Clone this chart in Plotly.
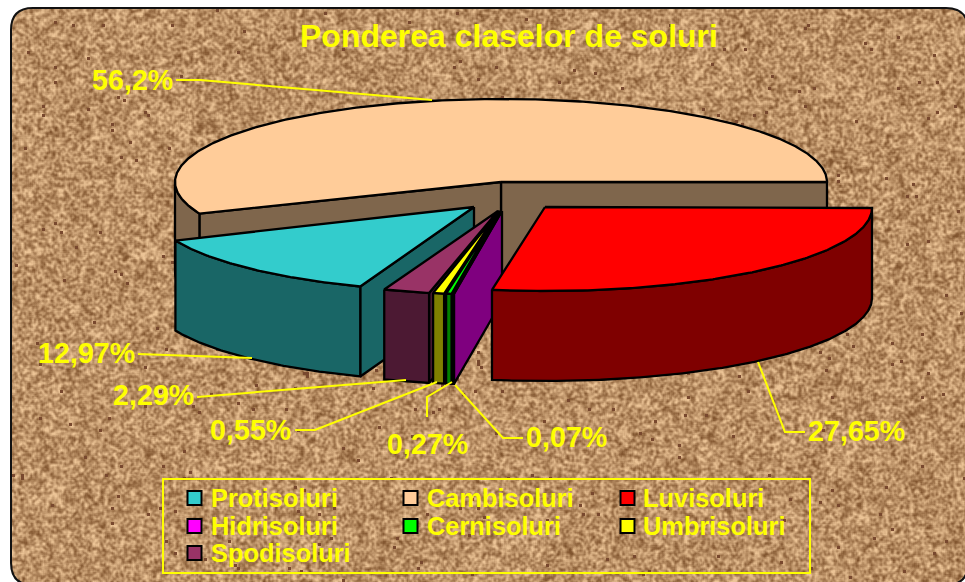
import base64, struct, zlib
import numpy as np
import plotly.graph_objects as go

# ---- data ----
TITLE = "Ponderea claselor de soluri"
PIE_ORDER = ["Cambisoluri", "Protisoluri", "Spodisoluri", "Umbrisoluri", "Cernisoluri", "Hidrisoluri", "Luvisoluri"]
PIE_VALUES = [56.2, 12.97, 2.29, 0.55, 0.27, 0.07, 27.65]
PIE_LABELS = ["56,2%", "12,97%", "2,29%", "0,55%", "0,27%", "0,07%", "27,65%"]
LEGEND_ORDER = ["Protisoluri", "Cambisoluri", "Luvisoluri", "Hidrisoluri", "Cernisoluri", "Umbrisoluri", "Spodisoluri"]
COLORS = {"Protisoluri": "#33CCCC", "Cambisoluri": "#FFCC99", "Luvisoluri": "#FF0000", "Hidrisoluri": "#FF00FF",
          "Cernisoluri": "#00FF00", "Umbrisoluri": "#FFFF00", "Spodisoluri": "#993366"}

# ---- geometry of the exploded, tilted pie (pixels) ----
W, H = 965, 582
RX, RY, DEPTH = 326, 83, 90
ARC_CENTER = {"Cambisoluri": (501, 182), "Protisoluri": (477, 209), "Spodisoluri": (501, 212),
              "Umbrisoluri": (505, 212), "Cernisoluri": (507, 212), "Hidrisoluri": (508, 212), "Luvisoluri": (546, 208)}
APEX = {"Protisoluri": (474, 207), "Spodisoluri": (498, 211), "Umbrisoluri": (499, 211), "Cernisoluri": (500, 211),
        "Hidrisoluri": (502, 211), "Luvisoluri": (545, 207)}
YELLOW = "#FFFF00"

LABEL_POS = [(90, 80), (36, 353), (111, 395), (208, 430), (385, 444), (524, 437), (806, 431)]
LEADERS = [[(176, 80), (200, 80), (432, 100)],
           [(138, 354), (252, 358)],
           [(197, 397), (406, 380)],
           [(295, 430), (315, 430), (437, 382)],
           [(427, 417), (427, 397), (452, 382)],
           [(455, 385), (503, 438), (523, 438)],
           [(758, 362), (785, 432), (805, 432)]]
LEG_COLS = [(187, 209), (403, 425), (620, 641)]
LEG_ROWS = [498, 526, 553]


def half(c):
    r, g, b = int(c[1:3], 16), int(c[3:5], 16), int(c[5:7], 16)
    return f"rgb({r // 2},{g // 2},{b // 2})"


def arc(c, a, b):
    th = np.radians(np.linspace(a, b, max(2, int(abs(b - a) * 2) + 2)))
    return c[0] + RX * np.cos(th), c[1] - RY * np.sin(th)


def poly(fig, xs, ys, fill):
    fig.add_trace(go.Scatter(x=list(xs), y=list(ys), mode="lines", fill="toself", fillcolor=fill,
                             line=dict(color="black", width=2.3), hoverinfo="skip", showlegend=False))


def cork_png():
    """Procedural cork backdrop (deterministic hash noise), encoded as a PNG data URI."""
    yy, xx = np.mgrid[0:H, 0:W]

    def cell(s, ox=0.0, oy=0.0):
        gx, gy = xx // s + ox, yy // s + oy
        v = np.sin(gx * 12.9898 + gy * 78.233 + gx * gy * 0.0137) * 43758.5453
        return v - np.floor(v)

    def blur(a, k=1):
        out = a.copy()
        for ax in (0, 1):
            out = (np.roll(out, k, ax) + out + np.roll(out, -k, ax)) / 3
        return out

    n = 0.70 * blur(cell(2, 3.1, 7.7)) + 0.22 * blur(cell(3, 11.3, 1.9), 2) + 0.08 * blur(cell(11, 5.5, 9.2), 6)
    n = (n - n.mean()) / n.std()
    t = np.clip(0.54 + 0.19 * n, 0, 1)[..., None]
    dark, light = np.array([128, 84, 46.0]), np.array([236, 196, 150.0])
    img = dark + (light - dark) * t
    speck = cell(3, 2.2, 4.4) > 0.994
    img[speck] = [120, 72, 46]
    img = img.astype(np.uint8)
    raw = b"".join(b"\x00" + img[r].tobytes() for r in range(H))

    def chunk(tag, data):
        return struct.pack(">I", len(data)) + tag + data + struct.pack(">I", zlib.crc32(tag + data))

    png = b"\x89PNG\r\n\x1a\n" + chunk(b"IHDR", struct.pack(">IIBBBBB", W, H, 8, 2, 0, 0, 0)) + \
        chunk(b"IDAT", zlib.compress(raw, 9)) + chunk(b"IEND", b"")
    return "data:image/png;base64," + base64.b64encode(png).decode()


fig = go.Figure()

# ---- slices, back to front ----
angle = 0.0
total = sum(PIE_VALUES)
for name, val in zip(PIE_ORDER, PIE_VALUES):
    start, end = angle, angle + val / total * 360
    angle = end
    c = ARC_CENTER[name]
    ap = APEX.get(name, c)
    top, wall = COLORS[name], half(COLORS[name])
    # cut faces
    for th, visible in ((start, np.sin(np.radians(start)) >= 0), (end, np.cos(np.radians(end)) < 0)):
        if visible:
            px, py = arc(c, th, th)
            px, py = px[0], py[0]
            poly(fig, [ap[0], px, px, ap[0], ap[0]], [ap[1], py, py + DEPTH, ap[1] + DEPTH, ap[1]], wall)
    # outer wall
    a, b = max(start, 180), min(end, 360)
    if b > a:
        ax, ay = arc(c, a, b)
        poly(fig, np.r_[ax, ax[::-1], ax[0]], np.r_[ay, ay[::-1] + DEPTH, ay[0]], wall)
    # top face
    tx, ty = arc(c, start, end)
    poly(fig, np.r_[ap[0], tx, ap[0]], np.r_[ap[1], ty, ap[1]], top)

# ---- leader lines and value labels ----
for pts in LEADERS:
    fig.add_trace(go.Scatter(x=[p[0] for p in pts], y=[p[1] for p in pts], mode="lines",
                             line=dict(color=YELLOW, width=2), hoverinfo="skip", showlegend=False))

annos = [dict(x=298, y=36, text=f"<b>{TITLE}</b>", font=dict(size=32), xanchor="left")]
for lab, (x, y) in zip(PIE_LABELS, LABEL_POS):
    annos.append(dict(x=x, y=y, text=f"<b>{lab}</b>", font=dict(size=28.7), xanchor="left"))

# ---- legend ----
lx, ly, lc = [], [], []
for i, name in enumerate(LEGEND_ORDER):
    col, row = LEG_COLS[i % 3], LEG_ROWS[i // 3]
    lx.append(col[0] + 7.5)
    ly.append(row)
    lc.append(COLORS[name])
    annos.append(dict(x=col[1], y=row, text=f"<b>{name}</b>", font=dict(size=25.4), xanchor="left"))
fig.add_trace(go.Scatter(x=lx, y=ly, mode="markers", hoverinfo="skip", showlegend=False,
                         marker=dict(symbol="square", size=14, color=lc, line=dict(color="black", width=2))))

for a in annos:
    a.update(xref="x", yref="y", yanchor="middle", showarrow=False, align="left")
    a["font"].update(family="Liberation Sans, Arial, sans-serif", color=YELLOW)

# ---- rounded frame ----
L, T, R, B, r = 11, 8, 968, 585, 22
rounded = (f"M{L + r},{T} L{R - r},{T} Q{R},{T} {R},{T + r} L{R},{B - r} Q{R},{B} {R - r},{B} "
           f"L{L + r},{B} Q{L},{B} {L},{B - r} L{L},{T + r} Q{L},{T} {L + r},{T} Z")
shapes = [
    dict(type="path", xref="x", yref="y", layer="below", fillcolor="white", line_width=0,
         path=f"M-5,-5 L{W + 5},-5 L{W + 5},{H + 5} L-5,{H + 5} Z " + rounded),
    dict(type="path", xref="x", yref="y", layer="below", line=dict(color="#111111", width=2), path=rounded),
    dict(type="rect", xref="x", yref="y", layer="below", x0=163, y0=479, x1=810, y1=573,
         line=dict(color=YELLOW, width=2)),
]

fig.update_layout(
    width=W, height=H, margin=dict(l=0, r=0, t=0, b=0), paper_bgcolor="white", plot_bgcolor="rgba(0,0,0,0)",
    xaxis=dict(range=[0, W], visible=False, fixedrange=True),
    yaxis=dict(range=[H, 0], visible=False, fixedrange=True),
    images=[dict(source=cork_png(), xref="paper", yref="paper", x=0, y=1, sizex=1, sizey=1,
                 xanchor="left", yanchor="top", sizing="stretch", layer="below")],
    shapes=shapes, annotations=annos, showlegend=False,
)
fig.write_html("out.html", config={"displayModeBar": False},
               post_script="document.body.style.margin='0';document.documentElement.style.overflow='hidden';")
